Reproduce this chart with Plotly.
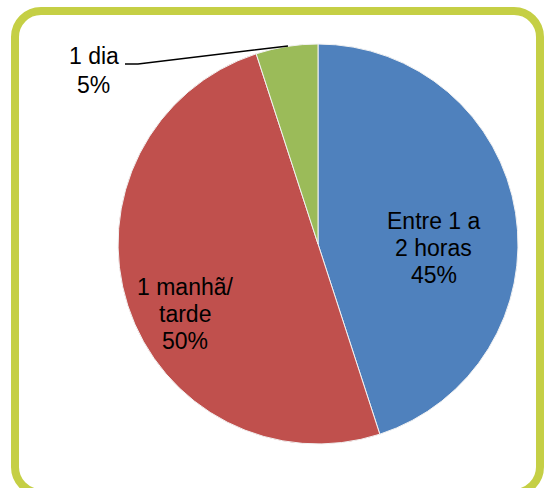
import plotly.graph_objects as go

# Data
categories = ["Entre 1 a 2 horas", "1 manhã/tarde", "1 dia"]
label_lines = [["Entre 1 a", "2 horas"], ["1 manhã/", "tarde"], ["1 dia"]]
values = [45, 50, 5]
colors = ["#4F81BD", "#C0504D", "#9BBB59"]

W, H = 544, 488
FONT = "Arial, Liberation Sans, sans-serif"

# Pie geometry (pixels)
cx, cy, r = 318, 244, 200

fig = go.Figure()
fig.add_trace(go.Pie(
    labels=categories,
    values=values,
    sort=False,
    direction="clockwise",
    rotation=0,
    marker=dict(colors=colors, line=dict(color="#F2F2F2", width=1)),
    textinfo="none",
    hoverinfo="label+percent",
    showlegend=False,
    domain=dict(x=[(cx - r) / W, (cx + r) / W], y=[(H - cy - r) / H, (H - cy + r) / H]),
))

# label layout (pixels): center x, first line middle y, line spacing
label_layout = [(433.5, 221.3, 27), (185, 286.5, 27.3), (93.5, 56.3, 28.2)]
total = sum(values)
annotations = []
for lines, v, (px, py, dy) in zip(label_lines, values, label_layout):
    all_lines = lines + [f"{round(100 * v / total)}%"]
    for i, t in enumerate(all_lines):
        annotations.append(dict(
            x=px, y=py + i * dy, xref="x", yref="y",
            text=t, showarrow=False, xanchor="center", yanchor="middle",
            font=dict(family=FONT, size=23, color="#000000"),
        ))

# rounded border
L, T, R, B, rad = 15, 11, 540, 493, 26
k = 0.552 * rad
border = (f"M {L+rad},{T} L {R-rad},{T} C {R-rad+k},{T} {R},{T+rad-k} {R},{T+rad} "
          f"L {R},{B-rad} C {R},{B-rad+k} {R-rad+k},{B} {R-rad},{B} "
          f"L {L+rad},{B} C {L+rad-k},{B} {L},{B-rad+k} {L},{B-rad} "
          f"L {L},{T+rad} C {L},{T+rad-k} {L+rad-k},{T} {L+rad},{T} Z")

shapes = [
    dict(type="path", path=border, xref="x", yref="y",
         line=dict(color="#C5CF45", width=8), fillcolor="rgba(0,0,0,0)", layer="below"),
    dict(type="path", path="M 125,64 L 138,64 L 288,46", xref="x", yref="y",
         line=dict(color="#000000", width=1.5), fillcolor="rgba(0,0,0,0)"),
]

fig.update_layout(
    width=W, height=H,
    margin=dict(l=0, r=0, t=0, b=0),
    paper_bgcolor="white", plot_bgcolor="white",
    xaxis=dict(range=[0, W], visible=False, domain=[0, 1], fixedrange=True),
    yaxis=dict(range=[H, 0], visible=False, domain=[0, 1], fixedrange=True),
    shapes=shapes,
    annotations=annotations,
)

fig.write_html("out.html", config={"displayModeBar": False})

# remove default page margin so the figure sits at the window origin
with open("out.html", "r", encoding="utf-8") as f:
    html = f.read()
html = html.replace("<head>", "<head><style>html,body{margin:0;padding:0;overflow:hidden;}</style>", 1)
with open("out.html", "w", encoding="utf-8") as f:
    f.write(html)
